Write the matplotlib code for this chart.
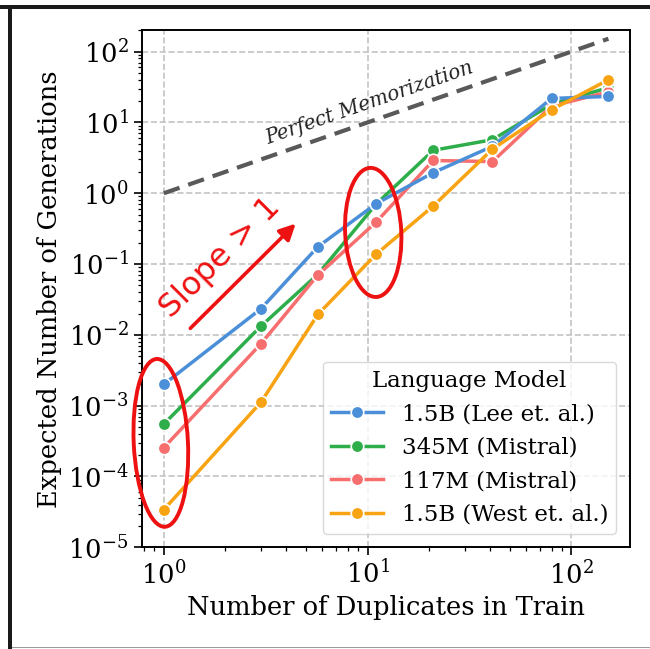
import matplotlib
matplotlib.use("Agg")
import matplotlib.pyplot as plt
from matplotlib.patches import Ellipse, Rectangle
import numpy as np

plt.rcParams['font.family'] = ['DejaVu Serif']
plt.rcParams['mathtext.fontset'] = 'dejavuserif'

duplicates = [1, 3, 5.7, 11, 21, 41, 80, 152]
lee_15b = [0.0020, 0.0234, 0.175, 0.71, 1.95, 4.6, 21.8, 23.3]
mistral_345m = [0.00055, 0.0133, 0.0716, 0.70, 4.04, 5.7, 18.0, 31.0]
mistral_117m = [0.000255, 0.0075, 0.070, 0.39, 2.9, 2.8, 17.0, 27.0]
west_15b = [3.4e-5, 0.00112, 0.0194, 0.137, 0.66, 4.2, 15.1, 40.0]

series = [
    ("1.5B (Lee et. al.)", lee_15b, "#4A8FD8", 4),
    ("345M (Mistral)", mistral_345m, "#2DAE4A", 2),
    ("117M (Mistral)", mistral_117m, "#F76E6E", 3),
    ("1.5B (West et. al.)", west_15b, "#F8A312", 5),
]
perfect_x = [1, 152]

fig = plt.figure(figsize=(6.5, 6.49), dpi=100)
ax = fig.add_axes([141.8/650, 1 - 547.3/649, (630 - 141.8)/650, (547.3 - 30.3)/649])

ax.set_xscale('log')
ax.set_yscale('log')
ax.set_xlim(0.78, 194)
ax.set_ylim(1e-5, 200)

ax.grid(True, which='major', linestyle='--', color='#c4c4c4', linewidth=1.2, zorder=0)
ax.set_axisbelow(True)

ax.plot(perfect_x, perfect_x, linestyle=(0, (4, 2.2)), color='#595959', linewidth=3, zorder=1.5)

handles = {}
for name, vals, col, z in series:
    h, = ax.plot(duplicates, vals, color=col, linewidth=2.5, marker='o', markersize=9,
                 markeredgecolor='white', markeredgewidth=1.2, zorder=z, label=name)
    handles[name] = h

order = ["1.5B (Lee et. al.)", "345M (Mistral)", "117M (Mistral)", "1.5B (West et. al.)"]
leg = ax.legend([handles[n] for n in order], order, title="Language Model", loc='lower right',
                fontsize=16.5, title_fontsize=16.5, frameon=True, framealpha=0.8,
                edgecolor='#d0d0d0', borderaxespad=0.6, handlelength=2.3, labelspacing=0.5,
                borderpad=0.35)
leg.set_zorder(10)

ax.set_xlabel("Number of Duplicates in Train", fontsize=18.5, labelpad=4)
ax.set_ylabel("Expected Number of Generations", fontsize=18.5, labelpad=4)
ax.tick_params(axis='both', which='major', labelsize=18.5, length=6, width=1.2, direction='out')
ax.tick_params(axis='both', which='minor', length=3, width=0.9, direction='out')
for s in ax.spines.values():
    s.set_linewidth(1.4)
    s.set_color('black')

ax.set_yticks([1e-5, 1e-4, 1e-3, 1e-2, 1e-1, 1, 10, 100])

# Annotations
ax.text(10.2, 19, "Perfect Memorization", rotation=19.2, style='italic', fontsize=14.3,
        ha='center', va='center', color='#222222', rotation_mode='anchor')
ax.annotate("", xy=(4.54, 0.397), xytext=(1.32, 0.0116),
            arrowprops=dict(arrowstyle='-|>', color='#EE1111', lw=2.6, mutation_scale=24),
            zorder=8)
ax.text(1.9, 0.123, "Slope > 1", rotation=45, fontsize=23, color='#EE1111',
        family='DejaVu Sans', ha='center', va='center', rotation_mode='anchor', zorder=8)

for (cx, cy, w, h, ang) in [(0.039, 0.202, 0.111, 0.325, 3), (0.474, 0.609, 0.115, 0.25, 3)]:
    e = Ellipse((cx, cy), w, h, angle=ang, transform=ax.transAxes, fill=False,
                edgecolor='#EE1111', linewidth=2.8, zorder=9, clip_on=False)
    ax.add_patch(e)

# figure frame lines
fig.add_artist(Rectangle((0, 1 - 9/649), 1, 4/649, transform=fig.transFigure, color='#1a1a1a', lw=0))
fig.add_artist(Rectangle((8/650, 0), 4/650, 1 - 5/649, transform=fig.transFigure, color='#1a1a1a', lw=0))
fig.add_artist(Rectangle((12/650, 1/649), 1, 1.2/649, transform=fig.transFigure, color='#9a9a9a', lw=0))

fig.savefig("out.png", dpi=100)
